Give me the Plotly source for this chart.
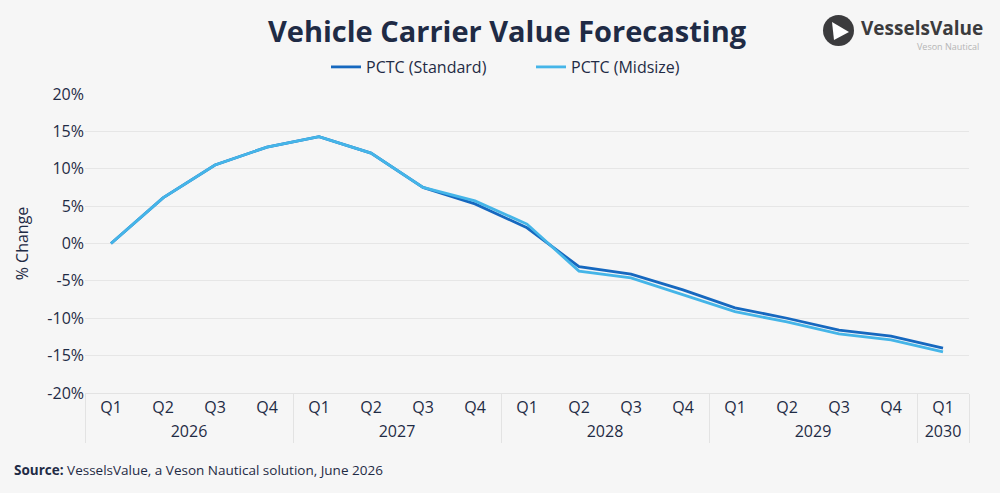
import plotly.graph_objects as go

years = ["2026"] * 4 + ["2027"] * 4 + ["2028"] * 4 + ["2029"] * 4 + ["2030"]
quarters = ["Q1", "Q2", "Q3", "Q4"] * 4 + ["Q1"]

standard = [0.0, 6.1, 10.5, 12.9, 14.3, 12.1, 7.5, 5.3, 2.1, -3.1, -4.1, -6.2, -8.6, -10.0, -11.6, -12.4, -14.0]
midsize = [0.0, 6.1, 10.5, 12.9, 14.3, 12.1, 7.5, 5.7, 2.6, -3.7, -4.6, -6.8, -9.1, -10.5, -12.1, -12.9, -14.5]

y_ticks = [20, 15, 10, 5, 0, -5, -10, -15, -20]
y_labels = [f"{v}%" for v in y_ticks]

FONT = "Open Sans"
NAVY = "#1f2b45"
BG = "#f6f6f6"

fig = go.Figure()
fig.add_trace(go.Scatter(x=[years, quarters], y=standard, mode="lines", name="PCTC (Standard)",
                         line=dict(color="#1668bf", width=2.8)))
fig.add_trace(go.Scatter(x=[years, quarters], y=midsize, mode="lines", name="PCTC (Midsize)",
                         line=dict(color="#45b5e8", width=2.8)))

L, R, T, B = 85, 969, 94, 393
W, H = 1000, 493


def px(x):
    return (x - L) / (R - L)


def py(y):
    return (B - y) / (B - T)


# logo
fig.add_shape(type="circle", xref="paper", yref="paper",
              x0=px(823), x1=px(854), y0=py(46), y1=py(15),
              fillcolor="#3b3b3d", line=dict(width=0))
tri = [(832, 22), (849, 32), (834, 40)]
path = "M " + " L ".join(f"{px(a)},{py(b)}" for a, b in tri) + " Z"
fig.add_shape(type="path", xref="paper", yref="paper", path=path,
              fillcolor="white", line=dict(width=0))
fig.add_annotation(xref="paper", yref="paper", x=px(859), y=py(28), xanchor="left", yanchor="middle",
                   text="<b>VesselsValue</b>", showarrow=False,
                   font=dict(family=FONT, size=19, color="#3b3b3d"))
fig.add_annotation(xref="paper", yref="paper", x=px(981), y=py(46), xanchor="right", yanchor="middle",
                   text="Veson Nautical", showarrow=False,
                   font=dict(family=FONT, size=9, color="#b5b5b5"))

# source
fig.add_annotation(xref="paper", yref="paper", x=px(12), y=py(470), xanchor="left", yanchor="middle",
                   text="<b>Source:</b> VesselsValue, a Veson Nautical solution, June 2026", showarrow=False,
                   font=dict(family=FONT, size=13.5, color=NAVY))

fig.update_layout(
    width=W, height=H,
    paper_bgcolor=BG, plot_bgcolor=BG,
    margin=dict(l=L, r=W - R, t=T, b=H - B),
    font=dict(family=FONT, color=NAVY, size=16),
    title=dict(text="<b>Vehicle Carrier Value Forecasting</b>", x=0.507, xanchor="center",
               y=1 - 32 / H, yanchor="middle", font=dict(family=FONT, size=29, color=NAVY)),
    legend=dict(orientation="h", x=px(326), xanchor="left", y=py(67), yanchor="middle",
                font=dict(size=16, color=NAVY), bgcolor="rgba(0,0,0,0)", itemwidth=30,
                entrywidth=160, entrywidthmode="pixels"),
    showlegend=True,
)
fig.update_xaxes(type="multicategory", range=[-0.5, len(quarters) - 0.5], showgrid=False,
                 showline=True, linecolor="#e3e3e3",
                 showdividers=True, dividercolor="#e3e3e3", dividerwidth=1,
                 tickfont=dict(size=16, color=NAVY))
fig.update_yaxes(range=[-20, 20], tickvals=y_ticks, ticktext=y_labels, showgrid=True,
                 gridcolor="#e6e6e6", zeroline=False, tickfont=dict(size=16, color=NAVY),
                 title=dict(text="% Change", font=dict(size=16, color=NAVY), standoff=14))

fig.write_html("out.html")
